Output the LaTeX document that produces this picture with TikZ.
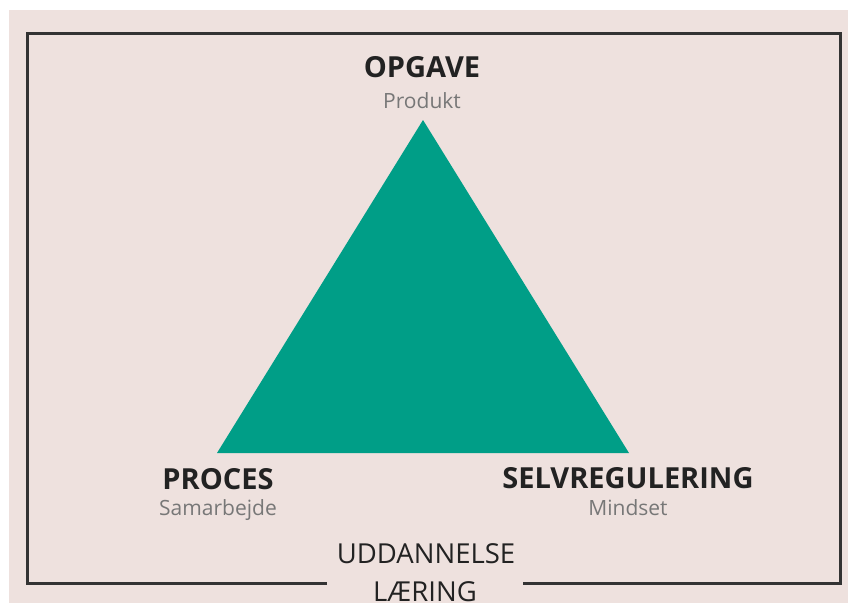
\documentclass[tikz,border=0pt]{standalone}
\usepackage{fontspec}
\setmainfont{Open Sans}
\definecolor{bgpink}{HTML}{EEE1DE}
\definecolor{teal}{HTML}{009E87}
\definecolor{titlecol}{HTML}{222222}
\definecolor{subcol}{HTML}{777777}
\definecolor{framecol}{HTML}{333333}
\begin{document}
\begin{tikzpicture}[x=1pt,y=-1pt,
  title/.style={font=\fontsize{29}{32}\selectfont\bfseries, text=titlecol, anchor=base, inner sep=0pt},
  sub/.style={font=\fontsize{21}{25}\selectfont, text=subcol, anchor=base, inner sep=0pt},
  base/.style={font=\fontsize{27.5}{32}\selectfont, text=titlecol, anchor=base, inner sep=0pt},
  frame/.style={draw=framecol, line width=3pt, line join=miter}]
\useasboundingbox (0,0) rectangle (848,603);
\fill[white] (0,0) rectangle (848,603);
\fill[bgpink] (9,10) rectangle (848,603);
% frame
\coordinate (gl) at (327,583);
\coordinate (bl) at (27,583);
\coordinate (tl) at (27,33);
\coordinate (tr) at (840,33);
\coordinate (br) at (840,583);
\coordinate (gr) at (523,583);
\draw[frame] (gl) -- (bl) -- (tl) -- (tr) -- (br) -- (gr);
% triangle
\coordinate (apex) at (423,120);
\coordinate (left) at (217,453);
\coordinate (right) at (629,453);
\fill[teal] (apex) -- (left) -- (right) -- cycle;
% labels
\node[title] (opgave) at (422,77) {OPGAVE};
\node[sub] (produkt) at (422,108) {Produkt};
\node[title] (proces) at (218,489) {PROCES};
\node[sub] (samarbejde) at (218,515) {Samarbejde};
\node[title] (selv) at (628,488) {SELVREGULERING};
\node[sub] (mindset) at (628,515) {Mindset};
\node[base] (udd) at (426,563) {UDDANNELSE};
\node[base] (laering) at (425,601) {LÆRING};
\end{tikzpicture}
\end{document}
